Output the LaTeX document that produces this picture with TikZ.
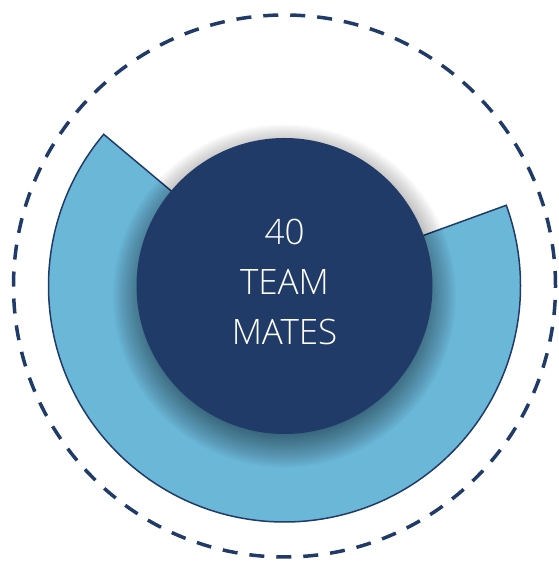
\documentclass[tikz,border=0pt]{standalone}
\usepackage{fontspec}
\setmainfont{Open Sans}
\newfontfamily\lightfont{Open Sans Light}
\definecolor{navy}{HTML}{213B69}
\definecolor{sky}{HTML}{6BB7D8}

\begin{document}
\begin{tikzpicture}[x=1pt, y=1pt]
    \tikzset{hub/.style = {shape=circle, fill=navy, minimum size=296pt, inner sep=0pt}}
    \tikzset{count/.style = {text=white, align=center, font=\lightfont\fontsize{35}{50}\selectfont}}
    \tikzset{sector/.style = {draw=navy, fill=sky, line width=1.5pt, line join=miter}}
    \tikzset{ring/.style = {draw=navy, line width=3.5pt, dash pattern=on 15pt off 12pt}}
    \tikzset{haze/.style = {fill=black, fill opacity=0.018}}

    \useasboundingbox (0,0) rectangle (558,562);
    \coordinate (c) at (284.5,276);

    % outer ring
    \draw[ring] (c) circle[radius=271];
    % share of the team
    \draw[sector] (c) -- ++(140:236) arc[start angle=140, end angle=380, radius=236] -- cycle;
    % soft shadow under the hub
    \foreach \i in {0,...,24}
        \fill[haze] ([yshift=-10pt]c) circle[radius=138+\i*1.4];
    % hub
    \node[hub] (hub) at (c) {};
    \node[count] (count) at ([yshift=4pt]c) {40\\TEAM\\MATES};
\end{tikzpicture}
\end{document}
